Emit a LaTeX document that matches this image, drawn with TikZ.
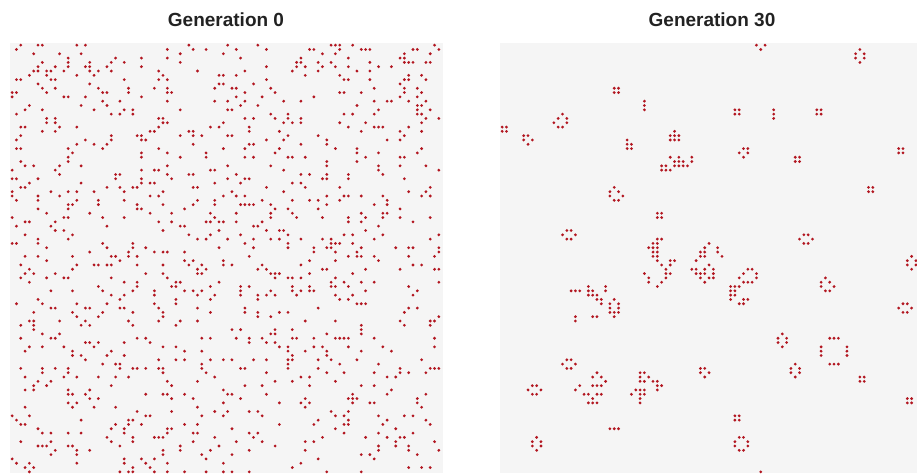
\documentclass[tikz,border=0pt]{standalone}
\usepackage{fontspec}
\setmainfont{Liberation Sans}
\usepackage{tikz}
\usetikzlibrary{positioning}

\definecolor{lifered}{RGB}{178,22,32}
\definecolor{boardgray}{RGB}{245,245,245}
\definecolor{titlegray}{RGB}{34,34,34}

% one live cell of the grid (column, row)
\newcommand{\lifecell}[2]{\fill[live_cell] (#1+0.5,#2+0.5) circle[radius=1.55pt];}
% a small pattern: origin column, origin row, list of offsets
\newcommand{\lifeshape}[3]{\foreach \dx/\dy in #3 {\lifecell{#1+\dx}{#2+\dy}}}

\def\blockcells{0/0,1/0,0/1,1/1}
\def\hivecellsH{1/0,2/0,0/1,3/1,1/2,2/2}
\def\hivecellsV{1/0,0/1,2/1,0/2,2/2,1/3}
\def\pondcells{1/0,2/0,0/1,3/1,0/2,3/2,1/3,2/3}
\def\boatcells{0/0,1/0,0/1,2/1,1/2}

\begin{document}
\begin{tikzpicture}[x=1pt, y=-1pt,
    board_box/.style={rectangle, draw=none, fill=boardgray, anchor=north west,
    minimum width=433pt, minimum height=430pt, inner sep=0pt},
    title_style/.style={font=\fontsize{19}{22}\selectfont\bfseries, text=titlegray},
    live_cell/.style={fill=lifered}
]

\useasboundingbox (0,0) rectangle (917,475);

% Boards
\node[board_box] (board0)  at (10,43)  {};
\node[board_box] (board30) at (500,43) {};

% Titles
\node[title_style] (title0)  at (226,20) {Generation 0};
\node[title_style] (title30) at (712,20) {Generation 30};

% Generation 0: random soup
\begin{scope}[shift={(board0.north west)}, x=4.31pt, y=-4.31pt]
    \pgfmathsetseed{2718}
    \foreach \r in {0,...,99} {
        \foreach \c in {0,...,99} {
            \pgfmathrandominteger{\rv}{1}{1000}
            \ifnum\rv<112 \lifecell{\c}{\r}\fi
        }
    }
\end{scope}

% Generation 30: what is left
\begin{scope}[shift={(board30.north west)}, x=4.31pt, y=-4.31pt]
    % blocks
    \foreach \c/\r in {26/10,54/15,73/15,0/19,36/39,68/26,92/24,85/33,83/77,94/82,54/86} {
        \lifeshape{\c}{\r}{\blockcells}
    }
    % beehives
    \foreach \c/\r in {14/43,69/44,14/73,6/79,92/60} {
        \lifeshape{\c}{\r}{\hivecellsH}
    }
    \foreach \c/\r in {82/1,7/91,64/67,67/74,94/49} {
        \lifeshape{\c}{\r}{\hivecellsV}
    }
    \lifeshape{54}{91}{\pondcells}
    % boats
    \foreach \c/\r in {5/21,46/75} {
        \lifeshape{\c}{\r}{\boatcells}
    }
    \lifeshape{55}{24}{{1/0,2/0,0/1,2/1,1/2}}
    % loaves
    \lifeshape{12}{16}{{2/0,1/1,3/1,0/2,3/2,1/3,2/3}}
    \lifeshape{25}{33}{{1/0,0/1,2/1,0/2,3/2,1/3,2/3}}
    \lifeshape{74}{54}{{1/0,0/1,2/1,0/2,3/2,1/3,2/3}}
    % blinkers
    \lifeshape{33}{13}{{0/0,0/1,0/2}}
    \lifeshape{63}{15}{{0/0,0/1,0/2}}
    \lifeshape{25}{89}{{0/0,1/0,2/0}}
    % traffic light
    \lifeshape{74}{68}{{2/0,3/0,4/0,0/2,0/3,0/4,6/2,6/3,6/4,2/6,3/6,4/6}}
    % loose pieces
    \foreach \c/\r in {59/0,61/0,60/1, 29/22,29/23,30/23,29/24,30/24, 60/99} {
        \lifecell{\c}{\r}
    }
    % clusters
    \foreach \c/\r in {40/20,39/21,40/21,41/21,39/22,40/22,41/22,
        39/26,41/26,44/26,40/27,41/27,42/27,44/27,37/28,38/28,40/28,41/28,42/28,43/28,
        37/29,38/29,39/29} {
        \lifecell{\c}{\r}
    }
    \foreach \c/\r in {36/45,37/45,35/46,36/46,34/47,35/47,36/47,35/48,36/48,35/49,36/49,
        36/50,39/50,40/50,37/51,39/51,38/52,33/53,38/53,39/53,34/54,38/54,34/55,37/55,36/56} {
        \lifecell{\c}{\r}
    }
    \foreach \c/\r in {48/46,47/47,50/47,46/48,47/48,50/48,46/49,47/49,51/49,45/50,48/51,
        44/52,45/52,47/52,49/52,45/53,46/53,47/53,49/53,46/54,48/54,49/54,47/55} {
        \lifecell{\c}{\r}
    }
    \foreach \c/\r in {57/52,58/52,56/53,59/53,55/54,59/54,56/55,57/55,58/55,53/56,54/56,55/56,
        53/57,54/57,53/58,54/58,53/59,56/59,57/59,55/60,56/60} {
        \lifecell{\c}{\r}
    }
    \foreach \c/\r in {16/57,17/57,18/57,20/56,24/56,20/57,21/57,24/57,20/58,21/58,22/58,
        22/59,23/59,23/60,26/59,25/60,27/60,25/61,27/61,25/62,26/62,27/62,26/63,21/63,22/63,
        17/63,17/64} {
        \lifecell{\c}{\r}
    }
    \foreach \c/\r in {22/76,21/77,23/77,24/78,18/79,21/79,22/79,23/79,17/80,19/81,20/81,
        22/81,23/81,21/82,20/83,21/83,22/83} {
        \lifecell{\c}{\r}
    }
    \foreach \c/\r in {32/76,33/76,32/77,34/77,32/78,33/78,35/78,36/78,36/79,37/79,
        31/80,32/80,33/80,36/80,30/81,32/81,33/81,32/82,32/83} {
        \lifecell{\c}{\r}
    }
\end{scope}

\end{tikzpicture}
\end{document}
